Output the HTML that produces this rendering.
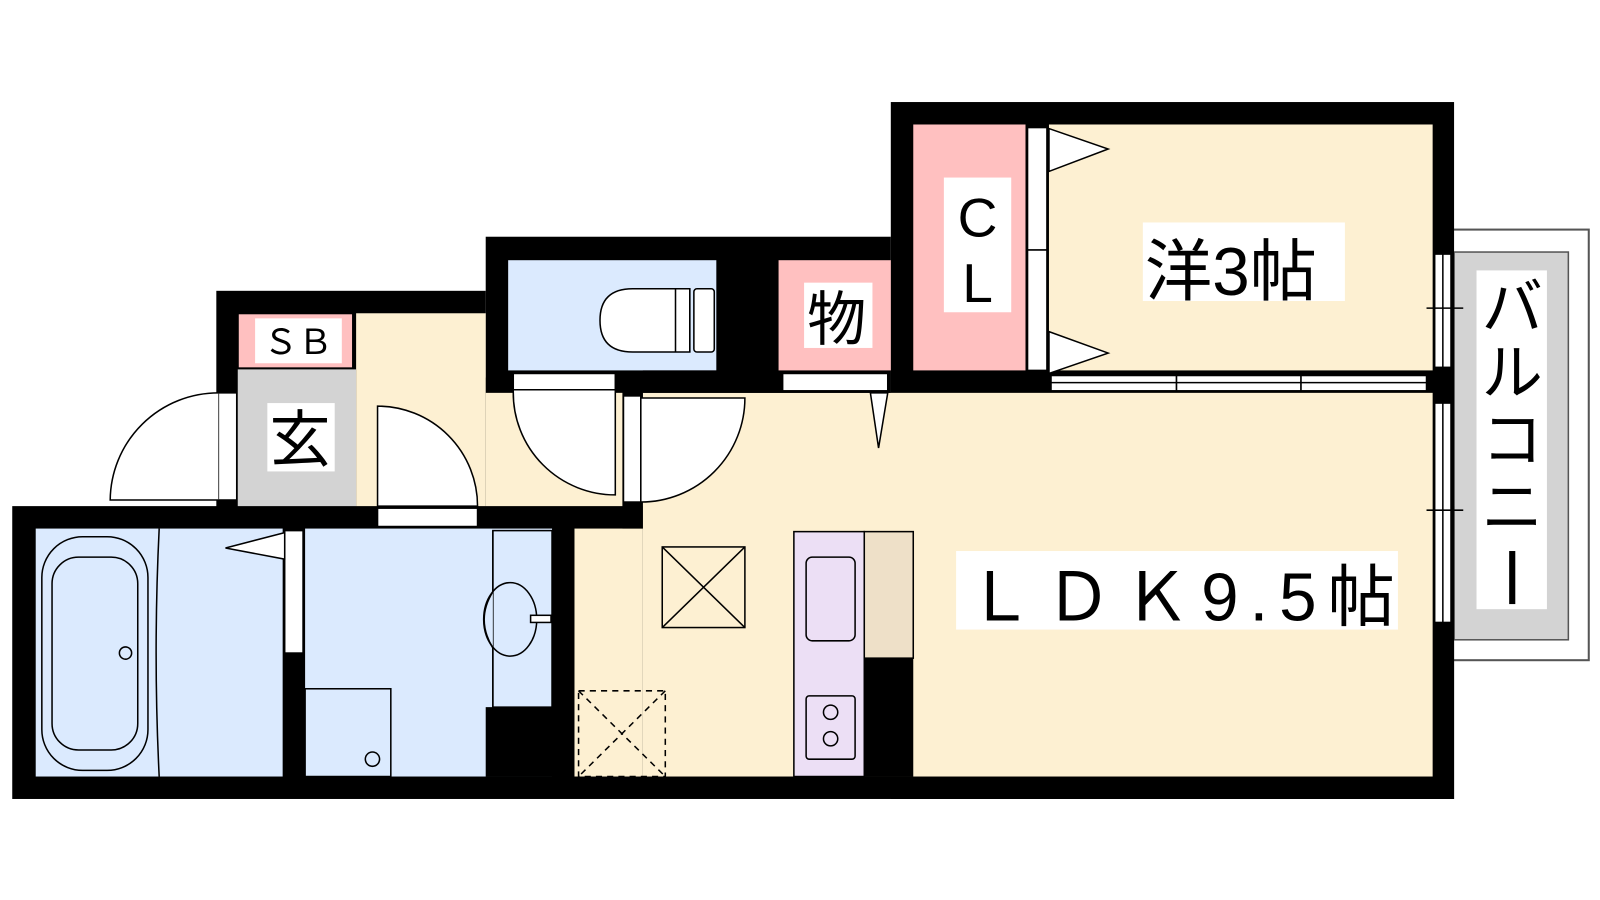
<!DOCTYPE html>
<html><head><meta charset="utf-8"><style>
html,body{margin:0;padding:0;background:#fff;width:1600px;height:900px;overflow:hidden}
svg{display:block}
text{font-family:"Liberation Sans","Noto Sans CJK JP",sans-serif;fill:#000}
</style></head><body>
<svg width="1600" height="900" viewBox="0 0 1600 900" xmlns="http://www.w3.org/2000/svg">
<g transform="scale(1.0204)">
<!-- balcony -->
<rect x="1410" y="225" width="147" height="422" fill="#fff" stroke="#555" stroke-width="2"/>
<rect x="1425" y="247" width="112" height="380" fill="#d3d3d3" stroke="#555" stroke-width="1.5"/>
<rect x="1447" y="265" width="69" height="332" fill="#fff"/>
<!-- black union -->
<g fill="#000">
<rect x="12" y="496" width="1413" height="287"/>
<rect x="873" y="100" width="552" height="683"/>
<rect x="476" y="232" width="397" height="160"/>
<rect x="212" y="285" width="264" height="233"/>
<rect x="460" y="370" width="170" height="148"/>
</g>
<g stroke="#000" stroke-width="1.5">
<!-- bath -->
<rect x="35" y="518" width="242" height="243" fill="#dbeafe" stroke="none"/>
<rect x="41" y="526" width="104" height="229" rx="40" fill="none"/>
<rect x="51" y="546" width="84" height="189" rx="26" fill="none"/>
<path d="M156 518 Q150 640 156 761" fill="none"/>
<circle cx="123" cy="640" r="6" fill="none"/>
<rect x="279" y="520" width="18" height="120" fill="#fff"/>
<polygon points="221,537 279,522 279,548" fill="#fff"/>
<!-- wash -->
<rect x="299" y="518" width="242" height="243" fill="#dbeafe" stroke="none"/>
<rect x="483" y="520" width="58" height="173" fill="#dbeafe"/>
<rect x="476" y="693" width="87" height="68" fill="#000" stroke="none"/>
<path d="M483 520 V580 Q466 607 483 635 V693" fill="#dbeafe"/>
<ellipse cx="500" cy="607" rx="26" ry="36" fill="none"/>
<rect x="520" y="603" width="20" height="7" fill="#fff"/>
<rect x="299" y="675" width="84" height="86" fill="#dbeafe"/>
<circle cx="365" cy="744" r="7" fill="none"/>
<!-- hall -->
<rect x="349" y="307" width="127" height="189" fill="#fdf0d2" stroke="none"/>
<rect x="476" y="385" width="134" height="111" fill="#fdf0d2" stroke="none"/>
<rect x="234" y="308" width="111" height="52" fill="#ffc0c0" stroke="none"/>
<rect x="233" y="362" width="116" height="134" fill="#d3d3d3" stroke="none"/>
<rect x="214" y="385" width="18" height="105" fill="#fff"/>
<path d="M214 490 H108 A106 106 0 0 1 214 385" fill="#fff"/>
<rect x="370" y="498" width="98" height="18" fill="#fff"/>
<path d="M370 496 V398 A98 98 0 0 1 468 496 Z" fill="#fff"/>
<!-- toilet -->
<rect x="498" y="255" width="204" height="108" fill="#dbeafe" stroke="none"/>
<path d="M676 283 H620 Q588 283 588 314 Q588 345 620 345 H676 Z" fill="#fff"/>
<path d="M662 283 V345 M676 283 V345" fill="none"/>
<rect x="680" y="283" width="20" height="62" rx="3" fill="#fff"/>
<rect x="503" y="366" width="100" height="16" fill="#fff"/>
<path d="M503 382 V384 A100 100 0 0 0 603 485 V382 Z" fill="#fff"/>
<!-- LDK -->
<rect x="630" y="385" width="774" height="376" fill="#fdf0d2" stroke="none"/>
<rect x="563" y="518" width="67" height="243" fill="#fdf0d2" stroke="none"/>
<rect x="630" y="363" width="243" height="22" fill="#000" stroke="none"/>
<rect x="610" y="385" width="20" height="133" fill="#000" stroke="none"/>
<rect x="611" y="388" width="17" height="104" fill="#fff"/>
<path d="M628 492 A102 102 0 0 0 730 390 H628 Z" fill="#fff"/>
<rect x="763" y="255" width="110" height="108" fill="#ffc0c0" stroke="none"/>
<rect x="767" y="366" width="103" height="17" fill="#fff"/>
<polygon points="853,385 870,385 861,439" fill="#fff"/>
<rect x="649" y="536" width="81" height="79" fill="none"/>
<path d="M649 536 L730 615 M730 536 L649 615" fill="none"/>
<g stroke-dasharray="6,5"><rect x="567" y="677" width="85" height="84" fill="none"/><path d="M567 677 L652 761 M652 677 L567 761" fill="none"/></g>
<rect x="778" y="521" width="69" height="240" fill="#ecdff5"/>
<rect x="847" y="521" width="48" height="124" fill="#eee0c8"/>
<rect x="847" y="645" width="48" height="116" fill="#000" stroke="none"/>
<rect x="790" y="546" width="48" height="82" rx="6" fill="none"/>
<rect x="790" y="682" width="48" height="62" rx="3" fill="none"/>
<circle cx="814" cy="698" r="7" fill="none"/><circle cx="814" cy="724" r="7" fill="none"/>
<!-- yo -->
<rect x="1028" y="122" width="376" height="241" fill="#fdf0d2" stroke="none"/>
<rect x="895" y="122" width="110" height="241" fill="#ffc0c0" stroke="none"/>
<rect x="1007" y="125" width="19" height="120" fill="#fff"/>
<rect x="1007" y="245" width="19" height="118" fill="#fff"/>
<polygon points="1028,126 1086,146 1028,168" fill="#fff"/>
<polygon points="1028,325 1086,346 1028,366" fill="#fff"/>
<rect x="1030" y="368" width="123" height="15" fill="#fff"/>
<rect x="1153" y="368" width="122" height="15" fill="#fff"/>
<rect x="1275" y="368" width="123" height="15" fill="#fff"/>
<path d="M1030 375 H1398" fill="none"/>
<!-- right windows -->
<rect x="1406" y="249" width="16" height="111" fill="#fff"/>
<rect x="1406" y="395" width="16" height="215" fill="#fff"/>
<path d="M1414 249 V360 M1414 395 V610 M1398 302 H1434 M1398 500 H1434" fill="none"/>
</g>
<!-- labels -->
<rect x="1120" y="218" width="198" height="77" fill="#fff"/>
<text x="1122" y="289" font-size="66">洋3帖</text>
<rect x="937" y="540" width="433" height="77" fill="#fff"/>
<text x="947" y="608" font-size="66" textLength="420">ＬＤＫ9.5帖</text>
<rect x="788" y="277" width="67" height="64" fill="#fff"/>
<text x="791" y="333" font-size="58">物</text>
<rect x="925" y="174" width="66" height="132" fill="#fff"/>
<text x="958" y="232" font-size="54" text-anchor="middle">C</text>
<text x="958" y="296" font-size="54" text-anchor="middle">L</text>
<rect x="250" y="312" width="85" height="44" fill="#fff"/>
<text x="292" y="347" font-size="34" text-anchor="middle">ＳＢ</text>
<rect x="262" y="395" width="66" height="67" fill="#fff"/>
<text x="264" y="452" font-size="60">玄</text>
<text x="1482" y="322" font-size="60" text-anchor="middle">バ</text>
<text x="1482" y="386" font-size="60" text-anchor="middle">ル</text>
<text x="1482" y="452" font-size="60" text-anchor="middle">コ</text>
<text x="1482" y="518" font-size="60" text-anchor="middle">ニ</text>
<rect x="1479" y="540" width="6" height="52" fill="#000"/>
</g>
</svg>
</body></html>
